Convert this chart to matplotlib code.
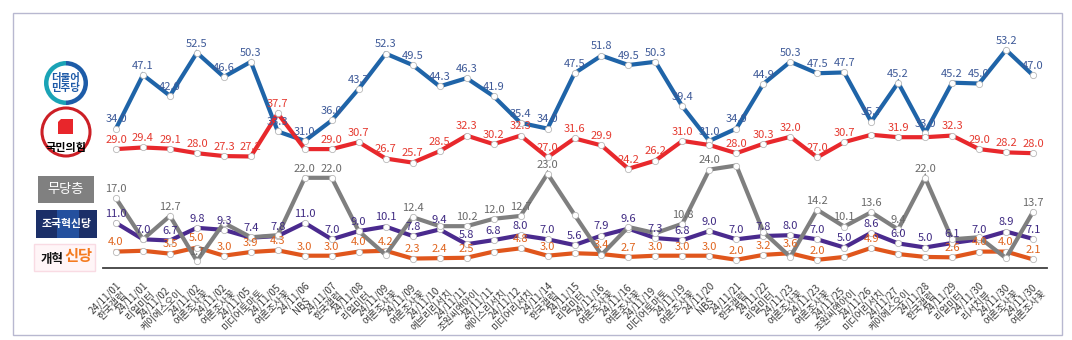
import matplotlib.pyplot as plt
import matplotlib.patches as mpatches

plt.rcParams['font.family'] = ['Noto Sans CJK KR', 'DejaVu Sans']

# poll dates / pollsters (x categories)
dates = ['24/11/01', '24/11/01', '24/11/02', '24/11/02', '24/11/02', '24/11/05', '24/11/05',
         '24/11/06', '24/11/07', '24/11/08', '24/11/09', '24/11/09', '24/11/10', '24/11/11',
         '24/11/11', '24/11/12', '24/11/14', '24/11/15', '24/11/16', '24/11/16', '24/11/19',
         '24/11/19', '24/11/20', '24/11/21', '24/11/22', '24/11/23', '24/11/23', '24/11/25',
         '24/11/26', '24/11/27', '24/11/28', '24/11/29', '24/11/30', '24/11/30', '24/11/30']
pollsters = ['한국갤럽', '리얼미터', '케이에스오이', '여론조사꽃', '여론조사꽃', '미디어토마토', '여론조사꽃',
             'NBS', '한국갤럽', '리얼미터', '여론조사꽃', '여론조사꽃', '에브리리서치', '조원씨앤아이',
             '에이스리서치', '미디어리서치', '한국갤럽', '리얼미터', '여론조사꽃', '여론조사꽃', '미디어토마토',
             '여론조사꽃', 'NBS', '한국갤럽', '리얼미터', '여론조사꽃', '여론조사꽃', '조원씨앤아이',
             '미디어리서치', '케이에스오이', '한국갤럽', '리얼미터', '리서치뷰', '여론조사꽃', '여론조사꽃']

dem = [34.0, 47.1, 42.0, 52.5, 46.6, 50.3, 33.3, 31.0, 36.0, 43.7, 52.3, 49.5, 44.3, 46.3, 41.9,
       35.4, 34.0, 47.5, 51.8, 49.5, 50.3, 39.4, 31.0, 34.0, 44.9, 50.3, 47.5, 47.7, 35.7, 45.2,
       33.0, 45.2, 45.0, 53.2, 47.0]
ppp = [29.0, 29.4, 29.1, 28.0, 27.3, 27.2, 37.7, 29.0, 29.0, 30.7, 26.7, 25.7, 28.5, 32.3, 30.2,
       32.3, 27.0, 31.6, 29.9, 24.2, 26.2, 31.0, 30.0, 28.0, 30.3, 32.0, 27.0, 30.7, 32.5, 31.9,
       31.9, 32.3, 29.0, 28.2, 28.0]
nonpart = [17.0, 7.0, 12.7, 1.7, 11.0, 7.5, 8.0, 22.0, 22.0, 9.0, 3.2, 12.4, 10.2, 10.2, 12.0,
           12.7, 23.0, 13.0, 3.2, 10.0, 8.5, 10.8, 24.0, 25.0, 8.8, 2.7, 14.2, 10.1, 13.6, 9.4,
           22.0, 7.0, 7.5, 2.4, 13.7]
rebuild = [11.0, 7.0, 6.7, 9.8, 9.3, 7.4, 7.8, 11.0, 7.0, 9.0, 10.1, 7.8, 9.4, 5.8, 6.8,
           8.0, 7.0, 5.6, 7.9, 9.6, 7.3, 6.8, 9.0, 7.0, 7.8, 8.0, 7.0, 5.0, 8.6, 6.0,
           5.0, 6.1, 7.0, 8.9, 7.1]
reform = [4.0, 4.2, 3.5, 5.0, 3.0, 3.9, 4.3, 3.0, 3.0, 4.0, 4.2, 2.3, 2.4, 2.5, 4.0,
          4.8, 3.0, 3.6, 3.4, 2.7, 3.0, 3.0, 3.0, 2.0, 3.2, 3.6, 2.0, 2.7, 4.9, 3.4,
          2.7, 2.6, 4.0, 4.0, 2.1]

# labels that are hidden in the original (overlaps)
hide_ppp = {7, 22, 28, 30}
hide_non = {1, 4, 5, 6, 9, 10, 12, 17, 18, 19, 20, 23, 24, 25, 31, 32, 33}
hide_reform = {1, 14, 17, 27, 29, 30}

fig = plt.figure(figsize=(10.72, 3.4), dpi=100)
W, H = 1072, 340
ax = fig.add_axes([102.5 / W, (H - 268) / H, 944 / W, 246 / H])

x = list(range(len(dates)))
series = [
    (dem, '#1f64a8', '#3e5a98', set(), 2),
    (ppp, '#e8282c', '#e53a30', hide_ppp, 3),
    (rebuild, '#4a2a8e', '#3f2a82', set(), 4),
    (reform, '#e0561c', '#e0651f', hide_reform, 5),
    (nonpart, '#7f7f7f', '#6a6a6a', hide_non, 6),
]
for vals, col, lcol, hide, z in series:
    ax.plot(x, vals, color=col, lw=3.0, marker='o', ms=4.5, mfc='white',
            mec='#b8b8b8', mew=0.6, zorder=z, solid_joinstyle='miter')
    for i, v in enumerate(vals):
        if i in hide:
            continue
        ax.annotate(f'{v:.1f}', (i, v), xytext=(0, 3), textcoords='offset points',
                    ha='center', va='bottom', fontsize=8, color=lcol, zorder=10)

ax.set_xlim(-0.5, len(dates) - 0.5)
ax.set_ylim(0, 60)
ax.set_yticks([])
for s in ['top', 'left', 'right']:
    ax.spines[s].set_visible(False)
ax.spines['bottom'].set_color('#404040')
ax.spines['bottom'].set_linewidth(1.3)
ax.set_xticks(x)
ax.set_xticklabels([d + '\n' + p for d, p in zip(dates, pollsters)], rotation=45,
                   ha='right', rotation_mode='anchor', fontsize=7, color='#3a3a3a',
                   multialignment='center', linespacing=1.0)
ax.tick_params(axis='x', length=0, pad=9)

# overlay in pixel coordinates for frame and party badges
ov = fig.add_axes([0, 0, 1, 1], zorder=-1)
ov.set_xlim(0, W)
ov.set_ylim(H, 0)
ov.axis('off')
ov.add_patch(mpatches.Rectangle((13, 13), 1049, 322, fill=False, ec='#b8b8d0', lw=1))

ov2 = fig.add_axes([0, 0, 1, 1], zorder=5)
ov2.set_xlim(0, W)
ov2.set_ylim(H, 0)
ov2.axis('off')
ov2.patch.set_alpha(0)

# 더불어민주당
ov2.add_patch(mpatches.Wedge((66, 83), 22, 90, 270, fc='#1aa3b6', ec='none'))
ov2.add_patch(mpatches.Wedge((66, 83), 22, 270, 90, fc='#1d5ca8', ec='none'))
ov2.add_patch(mpatches.Circle((66, 83), 17.5, fc='white', ec='none'))
ov2.text(66, 83.5, '더불어\n민주당', ha='center', va='center', fontsize=7.5,
         fontweight='bold', color='#1d5aa8', linespacing=1.0)

# 국민의힘
ov2.add_patch(mpatches.Circle((66, 132), 24, fc='white', ec='#cc1f26', lw=2.2))
ov2.add_patch(mpatches.Polygon([(61, 119), (73, 119), (73, 134), (58, 134), (58, 122)],
                               closed=True, fc='#e8262b', ec='none'))
ov2.text(66, 147, '국민의힘', ha='center', va='center', fontsize=8,
         fontweight='bold', color='black')

# 무당층
ov2.add_patch(mpatches.Rectangle((38, 176), 56, 27, fc='#808080', ec='none'))
ov2.text(66, 189.5, '무당층', ha='center', va='center', fontsize=9.5, color='white')

# 조국혁신당
ov2.add_patch(mpatches.Rectangle((36, 210), 61, 28, fc='#1b2f68', ec='none'))
ov2.add_patch(mpatches.Rectangle((57, 210), 22, 28, fc='#24509e', ec='none'))
ov2.text(66.5, 224, '조국혁신당', ha='center', va='center', fontsize=7.8,
         fontweight='bold', color='white')

# 개혁신당
ov2.add_patch(mpatches.Rectangle((34, 244), 61, 27, fc='#fff5f7', ec='#f9dbe3', lw=1))
ov2.text(64, 259, '개혁', ha='right', va='center', fontsize=9, fontweight='bold',
         color='#111111')
ov2.text(64, 256.5, '신당', ha='left', va='center', fontsize=11, fontweight='bold',
         color='#f47b20')

fig.savefig('out.png', dpi=100)
